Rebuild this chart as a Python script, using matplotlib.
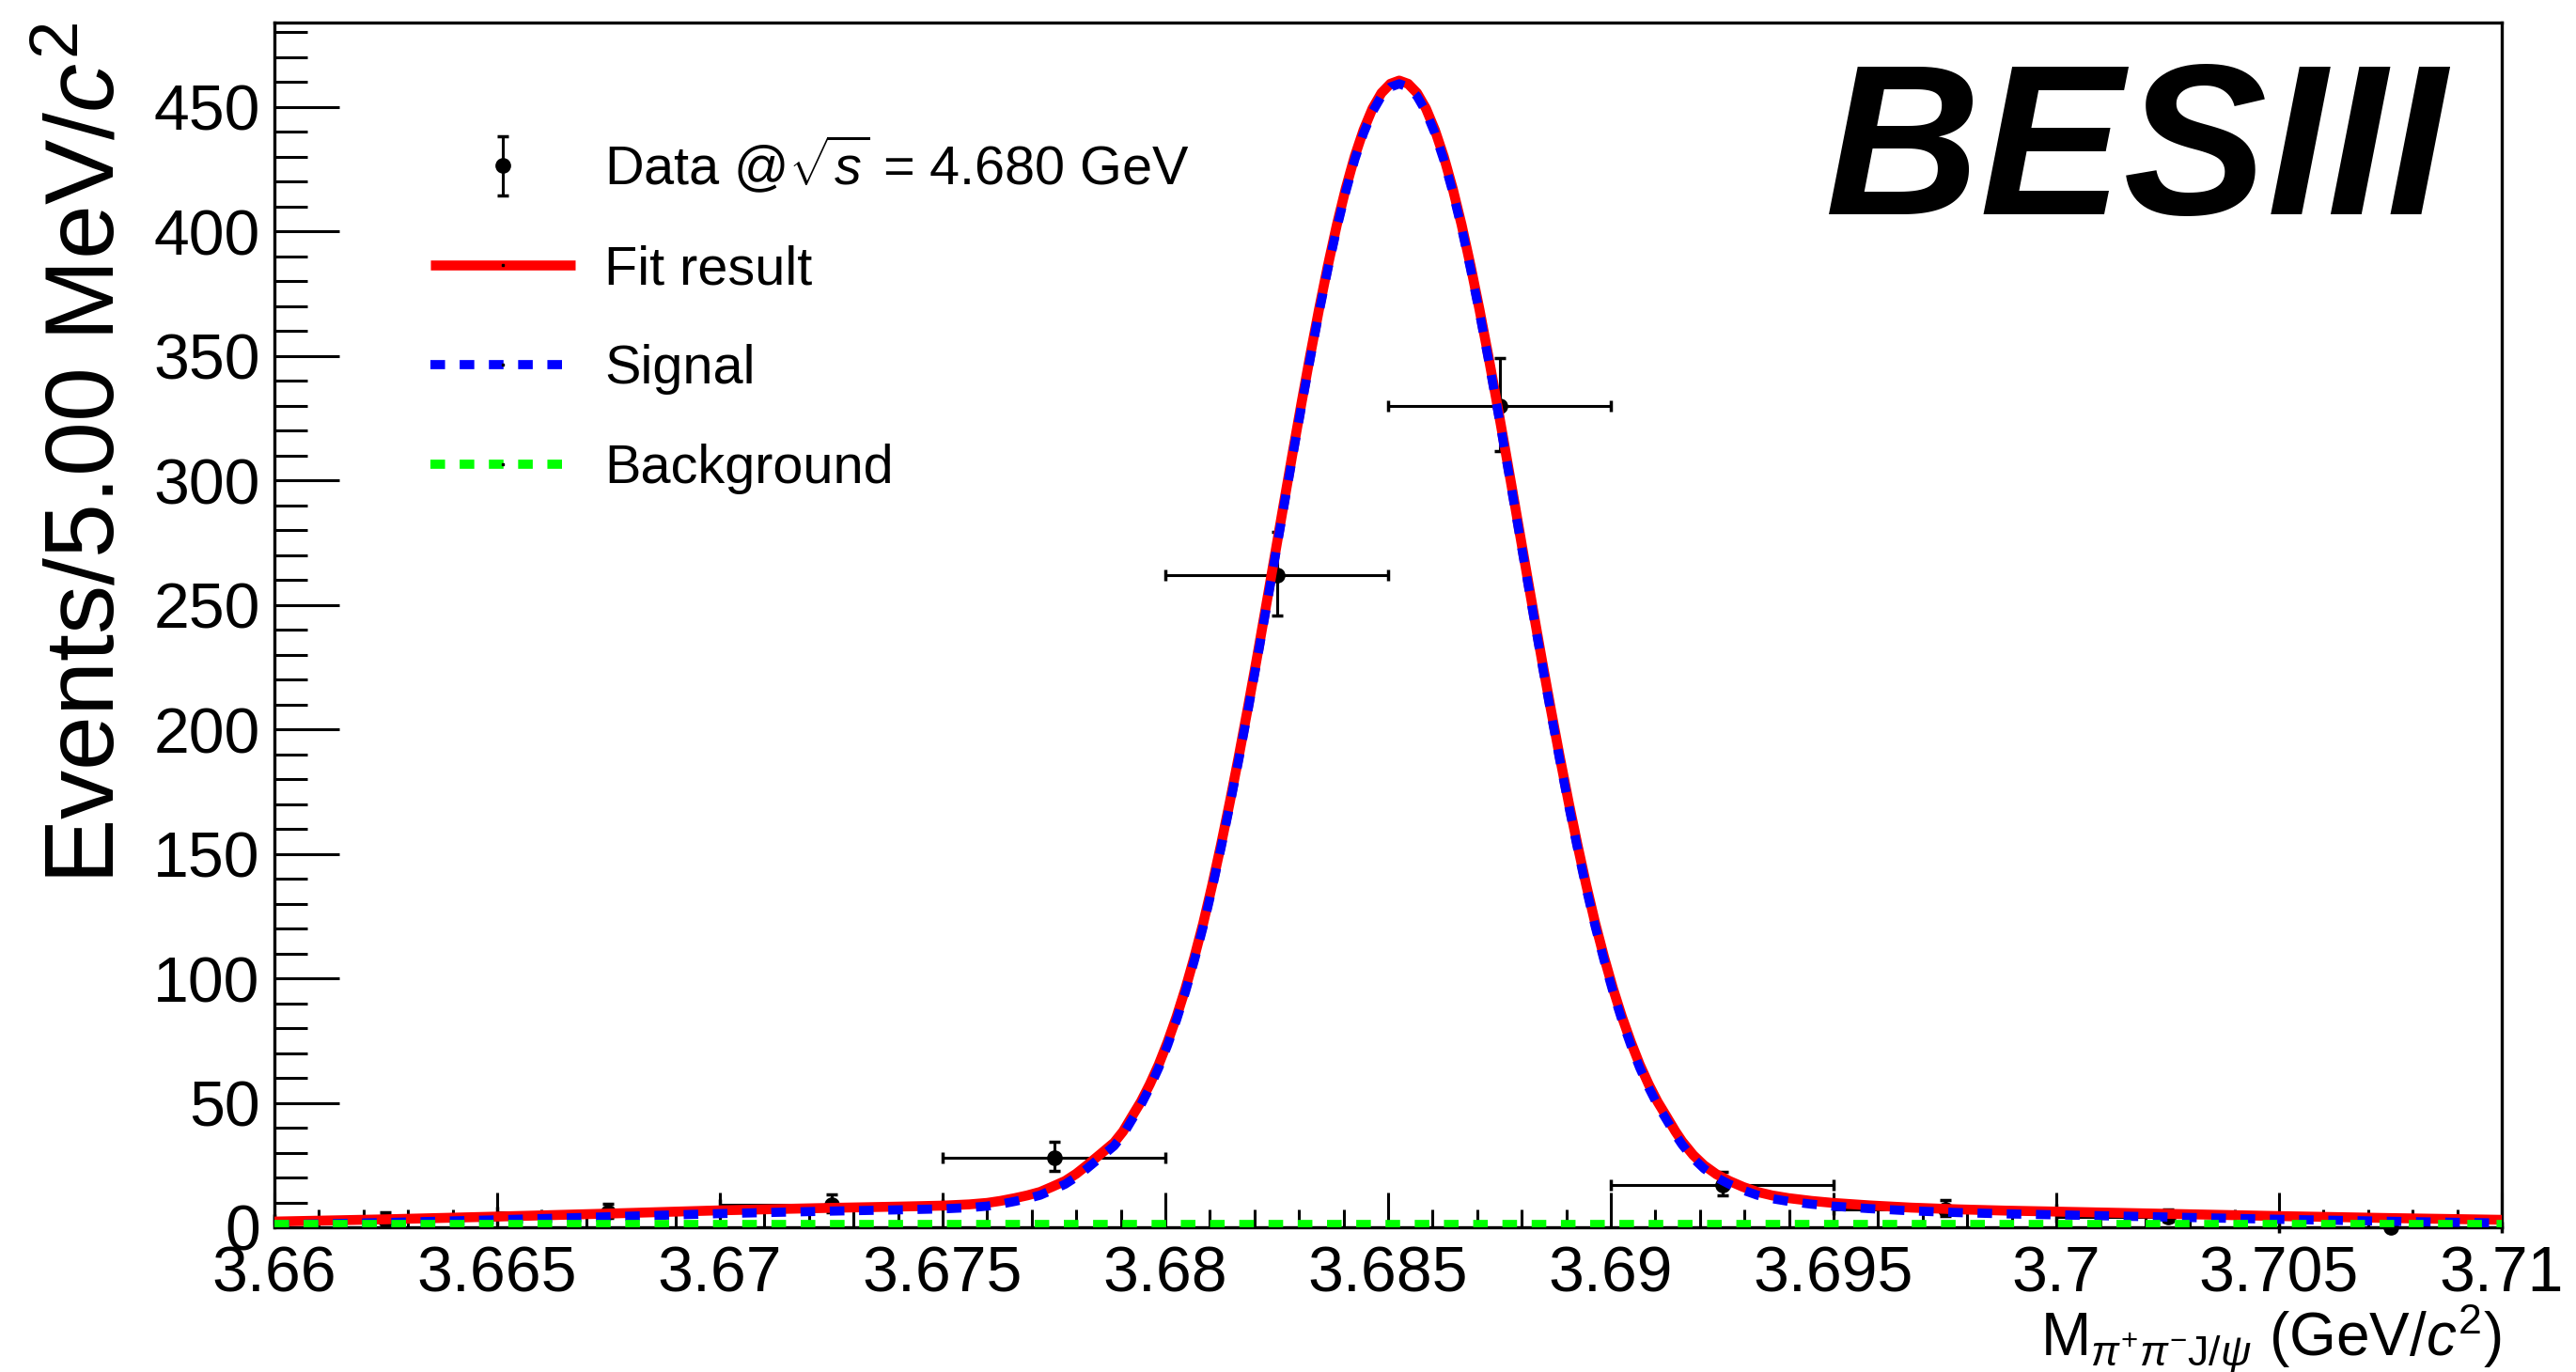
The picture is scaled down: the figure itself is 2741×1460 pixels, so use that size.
import matplotlib
matplotlib.use("Agg")
import matplotlib.pyplot as plt
from matplotlib.lines import Line2D
from matplotlib.legend_handler import HandlerTuple, HandlerErrorbar
from matplotlib.ticker import FixedLocator, MultipleLocator

plt.rcParams['font.family'] = ['Liberation Sans', 'DejaVu Sans']
plt.rcParams['mathtext.fontset'] = 'custom'
plt.rcParams['mathtext.rm'] = 'Liberation Sans'
plt.rcParams['mathtext.it'] = 'Liberation Sans:italic'
plt.rcParams['mathtext.bf'] = 'Liberation Sans:bold'

# binned data (5 MeV bins), asymmetric Poisson errors
data_x = [3.6625, 3.6675, 3.6725, 3.6775, 3.6825, 3.6875, 3.6925, 3.6975, 3.7025, 3.7075]
data_y = [3, 6, 9, 28, 262, 330, 17, 7, 4, 0]
err_lo = [1.6, 2.4, 2.9, 5.3, 16.2, 18.2, 4.1, 2.6, 1.9, 0.0]
err_hi = [2.9, 3.6, 4.1, 6.4, 17.2, 19.2, 5.2, 3.8, 3.2, 1.8]
bin_half = 0.0025

# total fit curve sampled along the mass axis
fit_x = [3.6600, 3.6625, 3.6650, 3.6675, 3.6700, 3.6725, 3.6740, 3.6750, 3.6756, 3.6760,
         3.6763, 3.67662, 3.6769, 3.67719, 3.67745, 3.67775, 3.6780, 3.67824, 3.67855, 3.67885,
         3.67905,
         3.67925, 3.67945, 3.67965, 3.67985, 3.68005, 3.68025, 3.68045, 3.68065, 3.68085, 3.68105,
         3.68125, 3.68145, 3.68165, 3.68185, 3.68205, 3.68225, 3.68245, 3.68265, 3.68285, 3.68305,
         3.68325, 3.68345, 3.68365, 3.68385, 3.68405, 3.68425, 3.68445, 3.68465, 3.68485, 3.68505,
         3.68525,
         3.68545, 3.68565, 3.68585, 3.68605, 3.68625, 3.68645, 3.68665, 3.68685, 3.68705, 3.68725,
         3.68745, 3.68765, 3.68785, 3.68805, 3.68825, 3.68845, 3.68865, 3.68885, 3.68905, 3.68925,
         3.68945, 3.68965, 3.68985, 3.69005, 3.69025, 3.69045, 3.69065, 3.69085, 3.69105, 3.69125,
         3.69145, 3.69160, 3.69185, 3.69209, 3.69237, 3.69266, 3.69297, 3.69329, 3.69362, 3.69399,
         3.69450, 3.69498, 3.69580, 3.69674, 3.69780, 3.69885, 3.7000, 3.7025, 3.7050, 3.7075,
         3.7100]
fit_total = [2.3, 3.2, 4.3, 5.5, 6.8, 7.8, 8.3, 8.7, 9.2, 9.8,
             10.6, 11.7, 12.8, 14.2, 16.2, 18.6, 21.5, 24.9, 29.5, 34.0,
             38.5,
             44.5, 50.4, 57.4, 65.3, 74.4, 84.5, 95.8, 108.4, 122.1, 137.3,
             153.7, 171.0, 189.3, 208.4, 228.1, 248.4, 269.0, 289.7, 310.2, 330.4,
             350.0, 368.7, 386.3, 402.6, 417.2, 430.0, 440.7, 449.3, 455.5, 459.2,
             460.5,
             459.2, 455.5, 449.3, 440.7, 430.0, 417.2, 402.6, 386.3, 368.7, 350.0,
             330.4, 310.2, 289.7, 269.0, 248.4, 228.1, 208.4, 189.3, 171.0, 153.7,
             137.3, 122.1, 108.4, 95.8, 84.5, 74.4, 65.3, 57.4, 50.4, 44.5,
             38.5, 34.5, 29.0, 24.9, 21.3, 18.6, 16.2, 14.2, 12.8, 11.7,
             10.6, 9.8, 8.8, 7.9, 7.2, 6.7, 6.3, 5.4, 4.5, 3.7,
             3.0]
# flat background component; signal is what remains of the total
bkg_level = 1.3
bkg_x = [3.66, 3.71]
bkg_y = [bkg_level, bkg_level]
fit_signal = [v - bkg_level for v in fit_total]

x_ticks = [3.66, 3.665, 3.67, 3.675, 3.68, 3.685, 3.69, 3.695, 3.70, 3.705, 3.71]
x_tick_labels = ["3.66", "3.665", "3.67", "3.675", "3.68", "3.685", "3.69", "3.695", "3.7", "3.705", "3.71"]
y_ticks = [0, 50, 100, 150, 200, 250, 300, 350, 400, 450]

fig = plt.figure(figsize=(27.41, 14.60), dpi=100)
ax = fig.add_axes([0.10653, 0.10548, 0.86465, 0.87808])

xerr = [bin_half] * len(data_x)
ax.errorbar(data_x, data_y, xerr=xerr, fmt='none', ecolor='black', elinewidth=2.2,
            capsize=4, capthick=2.5, zorder=2, clip_on=False)
h_data = ax.errorbar(data_x, data_y, yerr=[err_lo, err_hi], fmt='o', color='black',
                     ms=11, elinewidth=2.2, capsize=4, capthick=2.5, zorder=2, clip_on=False)

h_fit, = ax.plot(fit_x, fit_total, color='#ff0000', lw=7.6, solid_capstyle='butt',
                 solid_joinstyle='round', zorder=3)
h_sig, = ax.plot(fit_x, fit_signal, color='#0000ff', lw=7.0, dashes=(1.6, 1.6), zorder=4)
h_bkg, = ax.plot(bkg_x, bkg_y, color='#00ff00', lw=7.0, dashes=(1.6, 1.6), zorder=5)

ax.set_xlim(3.66, 3.71)
ax.set_ylim(0, 483.8)

ax.xaxis.set_major_locator(FixedLocator(x_ticks))
ax.set_xticklabels(x_tick_labels)
ax.xaxis.set_minor_locator(MultipleLocator(0.001))
ax.yaxis.set_major_locator(FixedLocator(y_ticks))
ax.yaxis.set_minor_locator(MultipleLocator(10))

ax.tick_params(axis='both', which='both', direction='in', width=2.2, labelsize=49,
               top=False, right=False)
ax.tick_params(axis='x', which='major', length=27, pad=13)
ax.tick_params(axis='x', which='minor', length=14)
ax.tick_params(axis='y', which='major', length=50, pad=11)
ax.tick_params(axis='y', which='minor', length=25)
for sp in ax.spines.values():
    sp.set_linewidth(2.4)

ax.set_ylabel(r"Events/5.00 MeV/$c^{2}$", fontsize=75, loc='top', labelpad=14)
ax.set_xlabel(r"M$_{\pi^{+}\pi^{-}\mathrm{J}/\psi}$ (GeV/$c^{2}$)", fontsize=46,
              loc='right', labelpad=-2)

fig.text(0.950, 0.8438, "BESIII", fontsize=165, fontweight='bold', fontstyle='italic',
         ha='right', va='baseline')

dot = dict(marker='s', ms=2, color='black', ls='none')
handles = [h_data, (h_fit, Line2D([], [], **dot)), (h_sig, Line2D([], [], **dot)),
           (h_bkg, Line2D([], [], **dot))]
labels = [r"Data @$\sqrt{s}$ = 4.680 GeV", "Fit result", "Signal", "Background"]
ax.legend(handles, labels, loc='upper left', bbox_to_anchor=(0.058, 0.93), frameon=False,
          fontsize=41.5, handlelength=2.66, handletextpad=0.55, labelspacing=0.9,
          borderpad=0,
          handler_map={tuple: HandlerTuple(ndivide=1), h_data: HandlerErrorbar(yerr_size=0.55)})

fig.savefig("out.png", dpi=100)
